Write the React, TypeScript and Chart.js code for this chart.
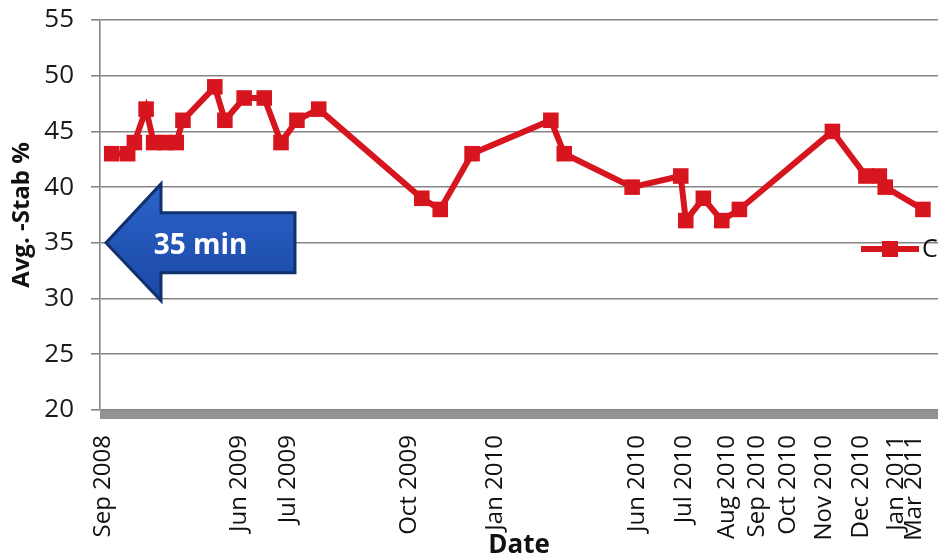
import React, { useEffect, useRef } from 'react';
import { Chart, registerables } from 'chart.js';

Chart.register(...registerables);

// ---- data (x = relative position on the date timeline, 0..100) ----
const seriesLabel = 'C';
const sampleTimeline = [1.4, 3.3, 4.1, 5.5, 6.4, 7.8, 9.1, 9.9, 13.7, 14.9, 17.2, 19.6, 21.6, 23.5, 26.1, 38.4, 40.6, 44.4, 53.8, 55.4, 63.5, 69.3, 69.9, 72.0, 74.2, 76.3, 87.4, 91.4, 93.0, 93.7, 98.2];
const stabValues = [43, 43, 44, 47, 44, 44, 44, 46, 49, 46, 48, 48, 44, 46, 47, 39, 38, 43, 46, 43, 40, 41, 37, 39, 37, 38, 45, 41, 41, 40, 38];
const tickTimeline = [0.4, 16.6, 22.4, 36.9, 47.1, 64.1, 69.7, 74.8, 78.4, 82.1, 86.4, 90.8, 95.0, 97.1];
const tickLabels = ['Sep 2008', 'Jun 2009', 'Jul 2009', 'Oct 2009', 'Jan 2010', 'Jun 2010', 'Jul 2010', 'Aug 2010', 'Sep 2010', 'Oct 2010', 'Nov 2010', 'Dec 2010', 'Jan 2011', 'Mar 2011'];
const yMin = 20;
const yMax = 55;
const yStep = 5;
const arrowTarget = 35;
const arrowText = '35 min';
const xTitle = 'Date';
const yTitle = 'Avg. -Stab %';

const RED = '#d6151f';
const GRID = '#858585';

export default function App() {
  const ref = useRef<HTMLCanvasElement>(null);

  useEffect(() => {
    if (!ref.current) return;
    Chart.defaults.font.family = '"Open Sans", sans-serif';

    const decor = {
      id: 'decor',
      afterDraw(chart: any) {
        const { ctx, chartArea, scales } = chart;
        const y = scales.y;
        ctx.save();
        // thick base bar under the plot
        ctx.fillStyle = '#939393';
        ctx.fillRect(chartArea.left, chartArea.bottom, chartArea.right - chartArea.left, 9);

        // blue arrow pointing at the target value
        const tipX = chartArea.left + 6;
        const tipY = y.getPixelForValue(arrowTarget);
        const headX = tipX + 55;
        const tailX = tipX + 189;
        ctx.beginPath();
        ctx.moveTo(tipX, tipY);
        ctx.lineTo(headX, tipY - 59);
        ctx.lineTo(headX, tipY - 30);
        ctx.lineTo(tailX, tipY - 30);
        ctx.lineTo(tailX, tipY + 30);
        ctx.lineTo(headX, tipY + 30);
        ctx.lineTo(headX, tipY + 58);
        ctx.closePath();
        const g = ctx.createLinearGradient(0, tipY - 59, 0, tipY + 58);
        g.addColorStop(0, '#2b63c8');
        g.addColorStop(1, '#1b48a6');
        ctx.fillStyle = g;
        ctx.fill();
        ctx.lineWidth = 3;
        ctx.lineJoin = 'miter';
        ctx.strokeStyle = '#11306e';
        ctx.stroke();
        ctx.fillStyle = '#ffffff';
        ctx.font = 'bold 28px "Open Sans", sans-serif';
        ctx.textAlign = 'center';
        ctx.textBaseline = 'middle';
        ctx.fillText(arrowText, (tipX + tailX) / 2, tipY + 3);

        // legend (partially cut at the right edge)
        const ly = chartArea.top + 229;
        const lx0 = chart.width - 77;
        const lx1 = chart.width - 19;
        ctx.strokeStyle = RED;
        ctx.lineWidth = 6;
        ctx.beginPath();
        ctx.moveTo(lx0, ly);
        ctx.lineTo(lx1, ly);
        ctx.stroke();
        ctx.fillStyle = RED;
        ctx.fillRect((lx0 + lx1) / 2 - 8, ly - 8, 16, 16);
        ctx.fillStyle = '#111111';
        ctx.font = '25px "Open Sans", sans-serif';
        ctx.textAlign = 'left';
        ctx.textBaseline = 'middle';
        ctx.fillText(seriesLabel, lx1 + 3, ly + 1);
        ctx.restore();
      },
    };

    const chart = new Chart(ref.current, {
      type: 'line',
      data: {
        datasets: [
          {
            label: seriesLabel,
            data: sampleTimeline.map((x, i) => ({ x, y: stabValues[i] })),
            borderColor: RED,
            backgroundColor: RED,
            borderWidth: 6,
            pointStyle: 'rect',
            pointRadius: 11,
            pointBorderWidth: 0,
            pointBackgroundColor: RED,
            tension: 0,
            clip: 20,
          },
        ],
      },
      options: {
        responsive: false,
        animation: false,
        events: [],
        layout: { autoPadding: false, padding: { top: 20, left: 0, right: 0, bottom: 0 } },
        plugins: {
          legend: { display: false },
          tooltip: { enabled: false },
        },
        scales: {
          x: {
            type: 'linear',
            min: 0,
            max: 100,
            afterBuildTicks: (scale: any) => {
              scale.ticks = tickTimeline.map((v) => ({ value: v }));
            },
            afterFit: (scale: any) => {
              scale.height = 148;
              scale.paddingLeft = 0;
              scale.paddingRight = 0;
            },
            ticks: {
              autoSkip: false,
              minRotation: 90,
              maxRotation: 90,
              padding: 25,
              color: '#111111',
              font: { size: 24 },
              callback: (value: any) => {
                const i = tickTimeline.indexOf(Number(value));
                return i >= 0 ? tickLabels[i] : '';
              },
            },
            grid: { display: false, drawTicks: false, tickLength: 0 },
            border: { display: false },
            title: {
              display: true,
              text: xTitle,
              color: '#111111',
              font: { size: 26, weight: 'bold' },
              padding: { top: 0, bottom: -3 },
            },
          },
          y: {
            min: yMin,
            max: yMax,
            afterFit: (scale: any) => {
              scale.width = 100;
              scale.paddingTop = 0;
              scale.paddingBottom = 0;
            },
            ticks: {
              stepSize: yStep,
              padding: 17,
              color: '#1a1a1a',
              font: { size: 26 },
            },
            grid: { color: GRID, lineWidth: 1.6, tickLength: 9 },
            border: { display: true, color: GRID, width: 1.6 },
            title: {
              display: true,
              text: yTitle,
              color: '#111111',
              font: { size: 24, weight: 'bold' },
              padding: { top: 8, bottom: 0 },
            },
          },
        },
      },
      plugins: [decor],
    });
    return () => chart.destroy();
  }, []);

  return (
    <div style={{ position: 'absolute', left: 0, top: 0, width: 938, height: 558, background: '#ffffff' }}>
      <canvas ref={ref} width={938} height={558} />
    </div>
  );
}
